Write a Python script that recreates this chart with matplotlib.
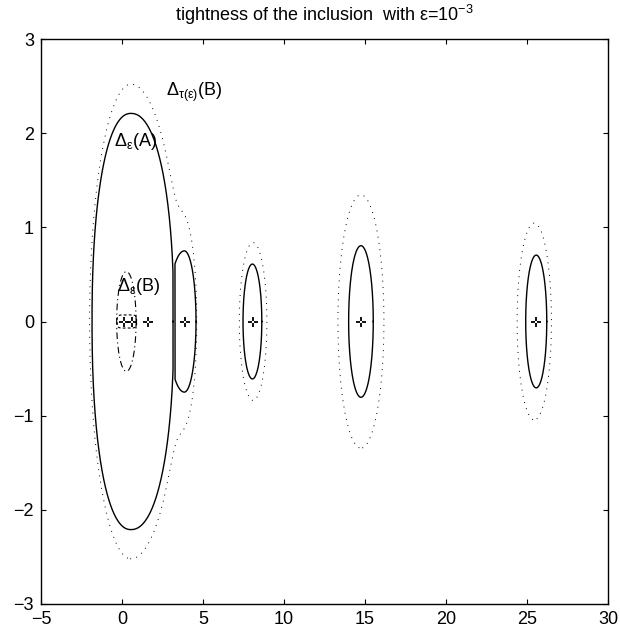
import numpy as np
import matplotlib
matplotlib.use("Agg")
import matplotlib.pyplot as plt
from matplotlib.path import Path
import contourpy

plt.rcParams['font.family'] = ['Liberation Sans', 'DejaVu Sans']
plt.rcParams['mathtext.fontset'] = 'custom'
plt.rcParams['mathtext.rm'] = 'Liberation Sans'
plt.rcParams['mathtext.it'] = 'Liberation Sans'
plt.rcParams['mathtext.bf'] = 'Liberation Sans:bold'

# eigenvalues (all real)
eig_re = [0.1, 0.63, 1.62, 3.89, 8.07, 14.75, 25.56]
eig_im = [0.0, 0.0, 0.0, 0.0, 0.0, 0.0, 0.0]

# Delta_eps(A): one closed curve per component
a_cx = [0.55, 3.85, 8.05, 14.75, 25.57]
a_left = [2.4, 1.0, 0.58, 0.76, 0.65]
a_right = [2.65, 0.72, 0.58, 0.76, 0.65]
a_half_h = [2.21, 0.75, 0.61, 0.805, 0.705]
a_power = [2.2, 2.0, 2.0, 2.0, 2.0]
a_xmin = [-np.inf, 3.27, -np.inf, -np.inf, -np.inf]
a_xmax = [3.15, np.inf, np.inf, np.inf, np.inf]

# Delta_tau(eps)(B): components merge, drawn as one level set
b_cx = [0.55, 3.9, 8.1, 14.75, 25.45]
b_left = [2.55, 0.58, 0.84, 1.42, 1.06]
b_right = [3.05, 0.58, 0.84, 1.42, 1.06]
b_half_h = [2.52, 0.8, 0.83, 1.345, 1.045]

# Delta_eps(B) and the small box around the first two eigenvalues
c_cx, c_hw, c_hh = 0.27, 0.6, 0.53
d_cx, d_hw, d_hh = 0.3, 0.6, 0.07


def outline(cx, hl, hr, hh, p=2.0, xmin=-np.inf, xmax=np.inf):
    t = np.linspace(0, 2 * np.pi, 721)
    c, s = np.cos(t), np.sin(t)
    u = np.sign(c) * np.abs(c) ** (2.0 / p)
    v = np.sign(s) * np.abs(s) ** (2.0 / p)
    x = cx + u * np.where(c > 0, hr, hl)
    return np.clip(x, xmin, xmax), hh * v


def level_field(X, Y, cx, hl, hr, hh, k=2.5):
    acc = np.zeros_like(X)
    for x0, l, r, h in zip(cx, hl, hr, hh):
        dx = (X - x0) / np.where(X > x0, r, l)
        f = np.sqrt(dx ** 2 + (Y / h) ** 2)
        acc += np.exp(-k * f)
    return -np.log(acc + 1e-300) / k


# gapped plus marker
plus = Path([(-1, 0), (-0.3, 0), (0.3, 0), (1, 0),
             (0, -1), (0, -0.3), (0, 0.3), (0, 1)],
            [Path.MOVETO, Path.LINETO] * 4)

fig = plt.figure(figsize=(6.2, 6.32), dpi=100)
ax = fig.add_axes([41 / 620, 28 / 632, 567 / 620, 565 / 632])

for i in range(len(a_cx)):
    x, y = outline(a_cx[i], a_left[i], a_right[i], a_half_h[i],
                   a_power[i], a_xmin[i], a_xmax[i])
    ax.plot(x, y, color='k', lw=1.0)

gx = np.linspace(-4, 29, 2200)
gy = np.linspace(-2.9, 2.9, 600)
GX, GY = np.meshgrid(gx, gy)
F = level_field(GX, GY, b_cx, b_left, b_right, b_half_h)
for seg in contourpy.contour_generator(gx, gy, F).lines(1.0):
    ax.plot(seg[:, 0], seg[:, 1], color='k', lw=0.7,
            linestyle=(0, (1, 5.5)))

x, y = outline(c_cx, c_hw, c_hw, c_hh)
ax.plot(x, y, color='k', lw=0.8, linestyle=(0, (6, 3, 1, 3)))
x, y = outline(d_cx, d_hw, d_hw, d_hh, p=5.0)
ax.plot(x, y, color='k', lw=0.8, linestyle=(0, (2.5, 2)))

ax.plot(eig_re, eig_im, linestyle='none', marker=plus, markersize=7,
        mew=1.3, color='k')

ax.text(2.7, 2.39, r'$\Delta_{\tau(\varepsilon)}$(B)', fontsize=13)
ax.text(-0.5, 1.86, r'$\Delta_{\varepsilon}$(A)', fontsize=13)
ax.text(-0.33, 0.32, r'$\Delta_{\varepsilon}$(B)', fontsize=13)

ax.set_xlim(-5, 30)
ax.set_ylim(-3, 3)
ax.set_xticks(range(-5, 31, 5))
ax.set_yticks(range(-3, 4))
ax.tick_params(direction='in', top=True, right=True, length=3.6,
               width=0.8, labelsize=13, pad=5)
for sp in ax.spines.values():
    sp.set_linewidth(1.0)

ax.set_title(r'tightness of the inclusion  with $\varepsilon$=10$^{-3}$',
             fontsize=13, pad=13)

fig.savefig('out.png', dpi=100)
